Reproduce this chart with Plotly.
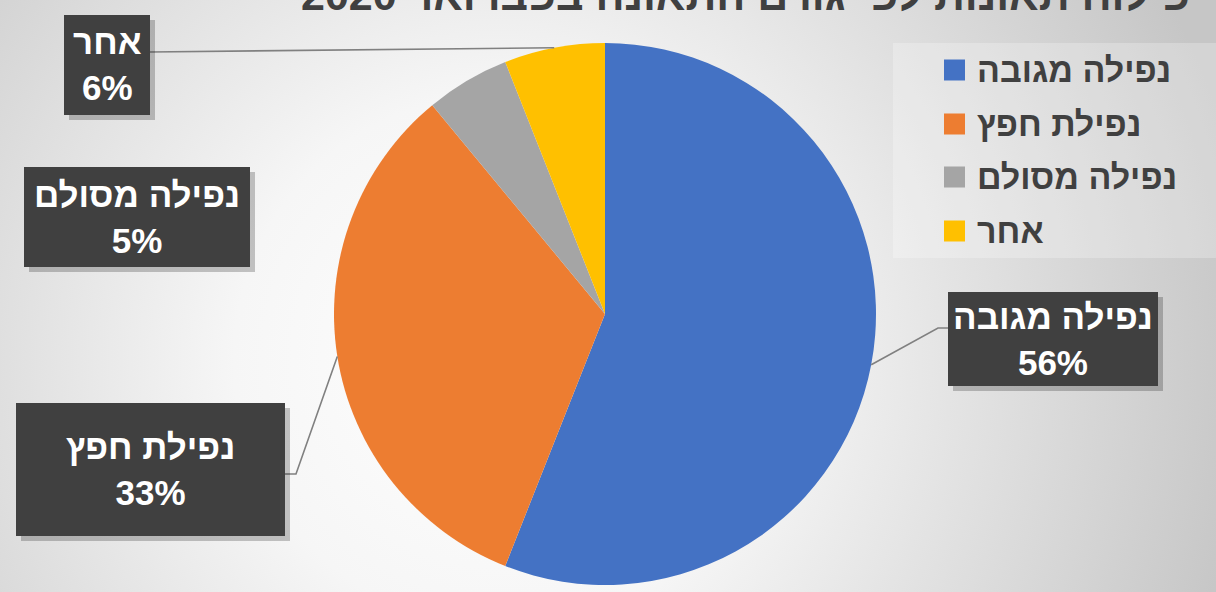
import base64
import math
import plotly.graph_objects as go

# ---- data ----
labels = ["נפילה מגובה", "נפילת חפץ", "נפילה מסולם", "אחר"]
values = [56, 33, 5, 6]
colors = ["#4472C4", "#ED7D31", "#A5A5A5", "#FFC000"]
title_text = "פילוח תאונות לפי גורם התאונה בפברואר 2020"

# ---- layout geometry (pixels) ----
W, H = 1216, 592
CX, CY, R = 605, 314, 271
FONT = "Liberation Sans, Arial, DejaVu Sans, sans-serif"


def px(x):
    return x / W


def py(y):
    return 1 - y / H


# label boxes (x0, y0, x1, y1) and leader-line bends per slice
boxes = [(948, 292, 1158, 386), (16, 403, 285, 536), (24, 167, 250, 267), (64, 15, 150, 115)]
bends = [[(938, 328), (948, 328)], [(296, 474), (285, 474)], None, [(150, 52)]]
legend_rows = [70, 124, 177, 231]

# background gradient as svg
svg = f'''<svg xmlns="http://www.w3.org/2000/svg" width="{W}" height="{H}">
<defs><radialGradient id="g" gradientUnits="userSpaceOnUse" cx="500" cy="360" r="760">
<stop offset="0" stop-color="#ffffff"/><stop offset="0.35" stop-color="#f6f6f6"/>
<stop offset="1" stop-color="#c6c6c6"/></radialGradient></defs>
<rect width="{W}" height="{H}" fill="url(#g)"/></svg>'''
bg_src = "data:image/svg+xml;base64," + base64.b64encode(svg.encode()).decode()

# subtle dotted texture for the label boxes
dots = '''<svg xmlns="http://www.w3.org/2000/svg" width="300" height="140">
<defs><pattern id="p" width="6" height="6" patternUnits="userSpaceOnUse">
<rect x="1" y="1" width="2" height="2" fill="#5a5a5a"/></pattern></defs>
<rect width="300" height="140" fill="url(#p)"/></svg>'''
dots_src = "data:image/svg+xml;base64," + base64.b64encode(dots.encode()).decode()

fig = go.Figure()
fig.add_trace(go.Pie(
    labels=labels, values=values, sort=False, direction="clockwise", rotation=0,
    marker=dict(colors=colors, line=dict(width=0)), textinfo="none",
    domain=dict(x=[px(CX - R), px(CX + R)], y=[py(CY + R), py(CY - R)]),
    showlegend=False, hoverinfo="label+percent",
))

shapes = []
annotations = []
images = [dict(source=bg_src, xref="paper", yref="paper", x=0, y=1, sizex=1, sizey=1,
               sizing="stretch", layer="below", xanchor="left", yanchor="top")]

# legend background
shapes.append(dict(type="rect", xref="paper", yref="paper", x0=px(893), x1=px(1216),
                   y0=py(258), y1=py(43), fillcolor="rgba(255,255,255,0.25)", line=dict(width=0)))

total = sum(values)
cum = 0
for i, (lab, v, c) in enumerate(zip(labels, values, colors)):
    mid = (cum + v / 2) / total * 2 * math.pi
    cum += v
    sx = CX + R * math.sin(mid)
    sy = CY - R * math.cos(mid)
    x0, y0, x1, y1 = boxes[i]
    if bends[i]:
        pts = [(sx, sy)] + bends[i]
        path = "M " + " L ".join(f"{px(a):.5f},{py(b):.5f}" for a, b in pts)
        shapes.append(dict(type="path", xref="paper", yref="paper", path=path,
                           line=dict(color="#808080", width=1.6), layer="above"))
    # shadow + box
    shapes.append(dict(type="rect", xref="paper", yref="paper", x0=px(x0 + 5), x1=px(x1 + 5),
                       y0=py(y1 + 5), y1=py(y0 + 5), fillcolor="rgba(0,0,0,0.22)",
                       line=dict(width=0), layer="above"))
    shapes.append(dict(type="rect", xref="paper", yref="paper", x0=px(x0), x1=px(x1),
                       y0=py(y1), y1=py(y0), fillcolor="#404040",
                       line=dict(width=0), layer="above"))
    images.append(dict(source=dots_src, xref="paper", yref="paper", x=px(x0), y=py(y0),
                       sizex=px(x1 - x0), sizey=(y1 - y0) / H, sizing="fill",
                       xanchor="left", yanchor="top", layer="above", opacity=0.6))
    annotations.append(dict(xref="paper", yref="paper", x=px((x0 + x1) / 2), y=py((y0 + y1) / 2),
                            text=f"{lab}<br>{v}%", showarrow=False, xanchor="center", yanchor="middle",
                            font=dict(family=FONT, size=35, color="white", weight="bold")))
    # custom legend
    ly = legend_rows[i]
    shapes.append(dict(type="rect", xref="paper", yref="paper", x0=px(944), x1=px(965),
                       y0=py(ly + 10.5), y1=py(ly - 10.5), fillcolor=c, line=dict(width=0)))
    annotations.append(dict(xref="paper", yref="paper", x=px(975), y=py(ly), text=lab,
                            showarrow=False, xanchor="left", yanchor="middle",
                            font=dict(family=FONT, size=34, color="#404040", weight="bold")))

# title (partly cut off at top, as in reference)
annotations.append(dict(xref="paper", yref="paper", x=px(745), y=py(-5), text=title_text,
                        showarrow=False, xanchor="center", yanchor="middle",
                        font=dict(family=FONT, size=43, color="#404040", weight="bold")))

fig.update_layout(
    width=W, height=H, margin=dict(l=0, r=0, t=0, b=0),
    paper_bgcolor="#e6e6e6", plot_bgcolor="rgba(0,0,0,0)",
    images=images, shapes=shapes, annotations=annotations, showlegend=False,
)

fig.write_html("out.html", config={"displayModeBar": False},
               post_script="document.body.style.margin='0';document.body.style.overflow='hidden';")
